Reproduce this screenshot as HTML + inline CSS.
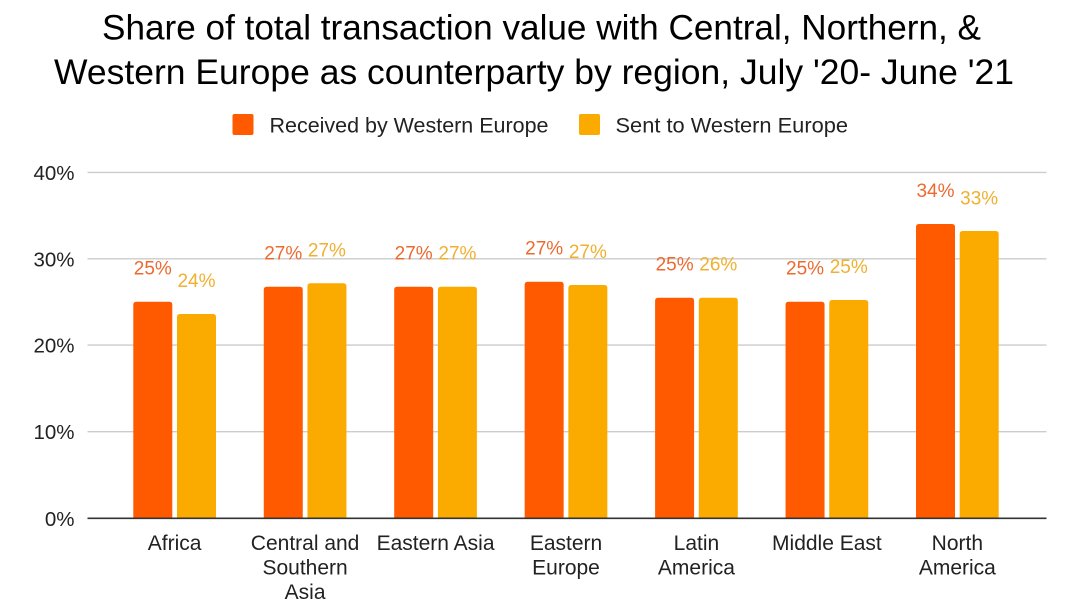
<!DOCTYPE html>
<html>
<head>
<meta charset="utf-8">
<style>
html,body{margin:0;padding:0;background:#fff;}
svg{display:block;}
text{font-family:"Liberation Sans",Arial,sans-serif;}
</style>
</head>
<body>
<svg width="1080" height="608" viewBox="0 0 1080 608" xmlns="http://www.w3.org/2000/svg">
<rect width="1080" height="608" fill="#fff"/>
<!-- Title -->
<text x="102" y="39.5" font-size="35" fill="#000" textLength="879" lengthAdjust="spacingAndGlyphs">Share of total transaction value with Central, Northern, &amp;</text>
<text x="54" y="84" font-size="35" fill="#000" textLength="960" lengthAdjust="spacingAndGlyphs">Western Europe as counterparty by region, July '20- June '21</text>
<!-- Legend -->
<rect x="232.5" y="114" width="21" height="21" rx="2" fill="#ff5a00"/>
<text x="269.5" y="132.5" font-size="21" fill="#222" textLength="279" lengthAdjust="spacingAndGlyphs">Received by Western Europe</text>
<rect x="579" y="114" width="21" height="21" rx="2" fill="#fbab00"/>
<text x="615.5" y="132.5" font-size="21" fill="#222" textLength="232.5" lengthAdjust="spacingAndGlyphs">Sent to Western Europe</text>
<!-- Gridlines -->
<g stroke="#cccccc" stroke-width="1.4">
<line x1="87.5" y1="172.4" x2="1046.5" y2="172.4"/>
<line x1="87.5" y1="258.8" x2="1046.5" y2="258.8"/>
<line x1="87.5" y1="345.1" x2="1046.5" y2="345.1"/>
<line x1="87.5" y1="431.7" x2="1046.5" y2="431.7"/>
</g>
<!-- Y labels -->
<g font-size="20.5" fill="#222" text-anchor="end">
<text x="74.5" y="180">40%</text>
<text x="74.5" y="266.3">30%</text>
<text x="74.5" y="352.6">20%</text>
<text x="74.5" y="439.2">10%</text>
<text x="74.5" y="525.8">0%</text>
</g>
<!-- Bars -->
<g fill="#ff5a00">
<path d="M133.3,518.3 V304.7 Q133.3,301.7 136.3,301.7 H169.3 Q172.3,301.7 172.3,304.7 V518.3 Z"/>
<path d="M263.75,518.3 V289.7 Q263.75,286.7 266.75,286.7 H299.75 Q302.75,286.7 302.75,289.7 V518.3 Z"/>
<path d="M394.2,518.3 V289.7 Q394.2,286.7 397.2,286.7 H430.2 Q433.2,286.7 433.2,289.7 V518.3 Z"/>
<path d="M524.65,518.3 V284.7 Q524.65,281.7 527.65,281.7 H560.65 Q563.65,281.7 563.65,284.7 V518.3 Z"/>
<path d="M655.1,518.3 V300.7 Q655.1,297.7 658.1,297.7 H691.1 Q694.1,297.7 694.1,300.7 V518.3 Z"/>
<path d="M785.55,518.3 V304.7 Q785.55,301.7 788.55,301.7 H821.55 Q824.55,301.7 824.55,304.7 V518.3 Z"/>
<path d="M916,518.3 V227 Q916,224 919,224 H952 Q955,224 955,227 V518.3 Z"/>
</g>
<g fill="#fbab00">
<path d="M177,518.3 V317 Q177,314 180,314 H213 Q216,314 216,317 V518.3 Z"/>
<path d="M307.45,518.3 V286.3 Q307.45,283.3 310.45,283.3 H343.45 Q346.45,283.3 346.45,286.3 V518.3 Z"/>
<path d="M437.9,518.3 V289.7 Q437.9,286.7 440.9,286.7 H473.9 Q476.9,286.7 476.9,289.7 V518.3 Z"/>
<path d="M568.35,518.3 V288 Q568.35,285 571.35,285 H604.35 Q607.35,285 607.35,288 V518.3 Z"/>
<path d="M698.8,518.3 V300.7 Q698.8,297.7 701.8,297.7 H734.8 Q737.8,297.7 737.8,300.7 V518.3 Z"/>
<path d="M829.25,518.3 V303 Q829.25,300 832.25,300 H865.25 Q868.25,300 868.25,303 V518.3 Z"/>
<path d="M959.7,518.3 V234 Q959.7,231 962.7,231 H995.7 Q998.7,231 998.7,234 V518.3 Z"/>
</g>
<!-- Axis -->
<line x1="87.5" y1="518.3" x2="1046.5" y2="518.3" stroke="#333" stroke-width="1.6"/>
<!-- Data labels -->
<g font-size="19" fill="#ec6a30" text-anchor="middle">
<text x="152.8" y="274.7">25%</text>
<text x="283.25" y="259.7">27%</text>
<text x="413.7" y="259.7">27%</text>
<text x="544.15" y="254.7">27%</text>
<text x="674.6" y="270.7">25%</text>
<text x="805.05" y="274.7">25%</text>
<text x="935.5" y="197">34%</text>
</g>
<g font-size="19" fill="#f0b030" text-anchor="middle">
<text x="196.5" y="287">24%</text>
<text x="326.95" y="256.3">27%</text>
<text x="457.4" y="259.7">27%</text>
<text x="587.85" y="258">27%</text>
<text x="718.3" y="270.7">26%</text>
<text x="848.75" y="273">25%</text>
<text x="979.2" y="204.5">33%</text>
</g>
<!-- Category labels -->
<g font-size="21" fill="#222" text-anchor="middle">
<text x="174.65" y="550">Africa</text>
<text x="305.1" y="550">Central and</text>
<text x="305.1" y="574.5">Southern</text>
<text x="305.1" y="599">Asia</text>
<text x="435.55" y="550">Eastern Asia</text>
<text x="566" y="550">Eastern</text>
<text x="566" y="574.5">Europe</text>
<text x="696.45" y="550">Latin</text>
<text x="696.45" y="574.5">America</text>
<text x="826.9" y="550">Middle East</text>
<text x="957.35" y="550">North</text>
<text x="957.35" y="574.5">America</text>
</g>
</svg>
</body>
</html>
